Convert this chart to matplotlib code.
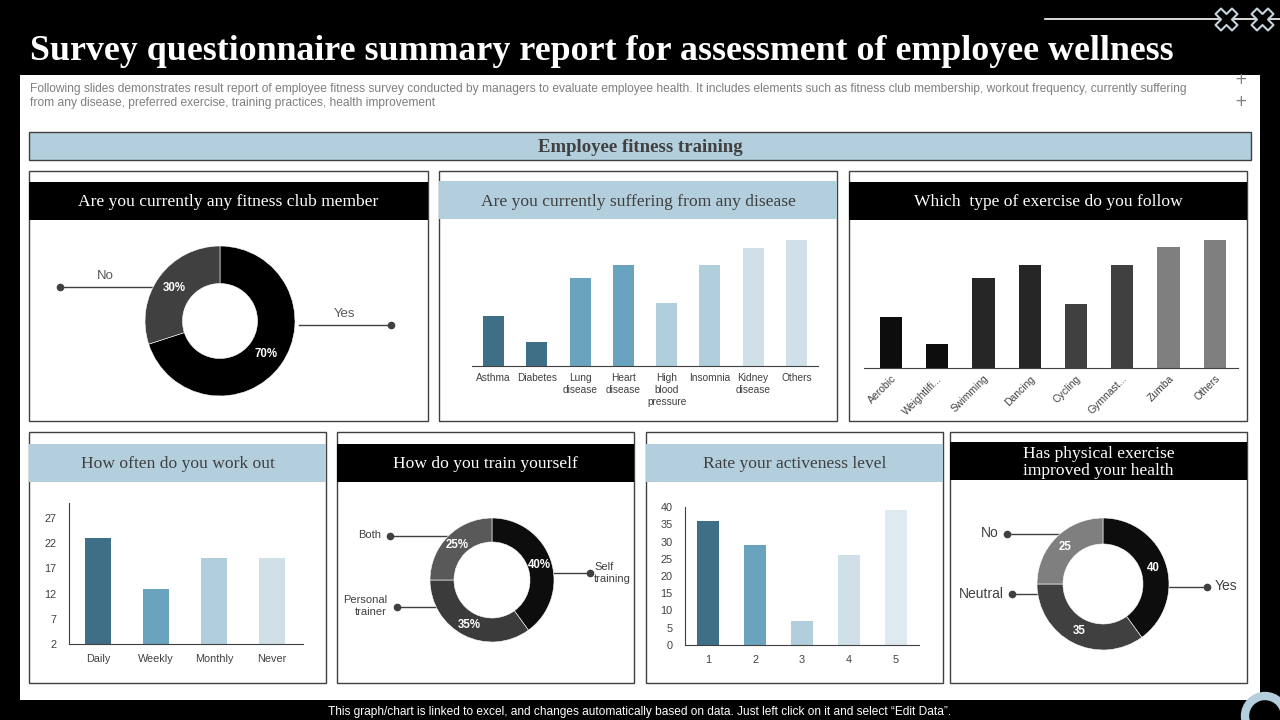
import numpy as np
import matplotlib.pyplot as plt
from matplotlib.patches import Rectangle, Circle

W, H = 1280, 720

# ---- data ----
disease_labels = ['Asthma', 'Diabetes', 'Lung\ndisease', 'Heart\ndisease',
                  'High\nblood\npressure', 'Insomnia', 'Kidney\ndisease', 'Others']
disease_values = [2.0, 0.95, 3.5, 4.0, 2.5, 4.0, 4.7, 5.0]

exercise_labels = ['Aerobic', 'Weightlifi...', 'Swimming', 'Dancing', 'Cycling',
                   'Gymnast...', 'Zumba', 'Others']
exercise_values = [2.0, 0.95, 3.5, 4.0, 2.5, 4.0, 4.7, 5.0]

club_labels = ['Yes', 'No']
club_values = [70, 30]

workout_labels = ['Daily', 'Weekly', 'Monthly', 'Never']
workout_values = [23, 13, 19, 19]
workout_ticks = [2, 7, 12, 17, 22, 27]

train_labels = ['Self\ntraining', 'Personal\ntrainer', 'Both']
train_values = [40, 35, 25]

active_levels = [1, 2, 3, 4, 5]
active_values = [36, 29, 7, 26, 39]
active_ticks = [0, 5, 10, 15, 20, 25, 30, 35, 40]

health_labels = ['Yes', 'Neutral', 'No']
health_values = [40, 35, 25]

# colours
DARK = '#404040'
LIGHTBLUE = '#b3cedc'
blues = ['#3f6e87', '#6aa3bd', '#b0cedc', '#cfe0e8', '#dee9f0']
greys = ['#0d0d0d', '#262626', '#404040', '#7f7f7f']

SERIF = 'Liberation Serif'
SANS = 'Liberation Sans'

fig = plt.figure(figsize=(12.8, 7.2), dpi=100, facecolor='black')

# full-figure pixel axes for frames, headers and annotations
bg = fig.add_axes([0, 0, 1, 1])
bg.set_xlim(0, W)
bg.set_ylim(H, 0)
bg.axis('off')
bg.set_zorder(0)


def px_axes(x0, y0, x1, y1):
    ax = fig.add_axes([x0 / W, 1 - y1 / H, (x1 - x0) / W, (y1 - y0) / H])
    ax.set_zorder(2)
    ax.patch.set_alpha(0)
    return ax


# white slide area
bg.add_patch(Rectangle((20, 75), 1240, 625, fc='white', ec='none'))

# title and description
bg.text(30, 48, 'Survey questionnaire summary report for assessment of employee wellness',
        color='white', fontsize=25.8, fontweight='bold', family=SERIF, va='center_baseline')
bg.text(30, 96, 'Following slides demonstrates result report of employee fitness survey conducted by managers to evaluate employee health. '
        'It includes elements such as fitness club membership, workout frequency, currently suffering\n'
        'from any disease, preferred exercise, training practices, health improvement',
        color='#7f7f7f', fontsize=8.65, family=SANS, va='center', linespacing=1.2)
bg.text(1241, 79, '+', color='#7f7f7f', fontsize=11, ha='center', va='center')
bg.text(1241, 101, '+', color='#7f7f7f', fontsize=11, ha='center', va='center')

# top-right decoration
bg.plot([1045, 1280], [19, 19], color='white', lw=1.2)
bg.scatter([1226, 1262], [19, 19], marker='X', s=250, fc='black', ec='#c5d3dc', lw=1.5, zorder=5)
bg.add_patch(Circle((1265, 716), 20, fc='none', ec=LIGHTBLUE, lw=6))

# footer
bg.text(640, 712, 'This graph/chart is linked to excel, and changes automatically based on data. '
        'Just left click on it and select \u201cEdit Data\u201d.',
        color='white', fontsize=8.6, family=SANS, ha='center', va='center')

# section header
bg.add_patch(Rectangle((29, 132), 1222, 28, fc=LIGHTBLUE, ec=DARK, lw=1))
bg.text(640, 147.5, 'Employee fitness training', color=DARK, fontsize=13.5,
        fontweight='bold', family=SERIF, ha='center', va='center')


def panel(x0, y0, x1, y1, hy0, hy1, title, dark):
    bg.add_patch(Rectangle((x0, y0), x1 - x0, y1 - y0, fc='white', ec=DARK, lw=1))
    bg.add_patch(Rectangle((x0, hy0), x1 - x0, hy1 - hy0,
                           fc='black' if dark else LIGHTBLUE, ec='none'))
    bg.text((x0 + x1) / 2, (hy0 + hy1) / 2 + 1.5, title, color='white' if dark else DARK,
            fontsize=12.6, family=SERIF, ha='center', va='center', linespacing=1.05)


panel(29, 171, 428, 421, 182, 220, 'Are you currently any fitness club member', True)
panel(439, 171, 837, 421, 181, 219, 'Are you currently suffering from any disease', False)
panel(849, 171, 1247, 421, 182, 220, 'Which  type of exercise do you follow', True)
panel(29, 432, 326, 683, 444, 482, 'How often do you work out', False)
panel(337, 432, 634, 683, 444, 482, 'How do you train yourself', True)
panel(646, 432, 943, 683, 444, 482, 'Rate your activeness level', False)
panel(950, 432, 1247, 683, 442, 480, 'Has physical exercise\nimproved your health', True)


def style_bar_axes(ax, show_y):
    for s in ['top', 'right']:
        ax.spines[s].set_visible(False)
    ax.spines['bottom'].set_color(DARK)
    ax.spines['left'].set_color(DARK)
    ax.spines['left'].set_visible(show_y)
    ax.tick_params(length=0, labelsize=7.8, colors='#404040', pad=5)
    if not show_y:
        ax.set_yticks([])


# disease bars
ax = px_axes(472, 230, 818, 366)
x = np.arange(len(disease_values))
ax.bar(x, disease_values, width=0.48,
       color=[blues[0], blues[0], blues[1], blues[1], blues[2], blues[2], blues[3], blues[3]])
ax.set_xlim(-0.5, 7.5)
ax.set_ylim(0, 5.4)
ax.set_xticks(x)
ax.set_xticklabels(disease_labels, linespacing=1.25)
style_bar_axes(ax, False)
ax.tick_params(axis='x', labelsize=7.3, pad=5)
for t in ax.get_xticklabels():
    t.set_fontfamily(SANS)

# exercise bars
ax = px_axes(864, 232, 1238, 368)
x = np.arange(len(exercise_values))
ax.bar(x, exercise_values, width=0.48,
       color=[greys[0], greys[0], greys[1], greys[1], greys[2], greys[2], greys[3], greys[3]])
ax.set_xlim(-0.58, 7.5)
ax.set_ylim(0, 5.3)
ax.set_xticks(x)
ax.set_xticklabels(exercise_labels, rotation=45, ha='right', rotation_mode='anchor')
style_bar_axes(ax, False)
ax.tick_params(axis='x', labelsize=7.5, pad=4)
for t in ax.get_xticklabels():
    t.set_fontfamily(SANS)

# workout frequency
ax = px_axes(69, 503, 303, 644)
x = np.arange(len(workout_values))
ax.bar(x, workout_values, width=0.45, color=blues[:4])
ax.set_xlim(-0.5, 3.53)
ax.set_ylim(2, 30)
ax.set_xticks(x)
ax.set_xticklabels(workout_labels)
ax.set_yticks(workout_ticks)
style_bar_axes(ax, True)
ax.tick_params(axis='y', pad=9)
ax.tick_params(axis='x', pad=7)
for t in ax.get_xticklabels() + ax.get_yticklabels():
    t.set_fontfamily(SANS)

# activeness level
ax = px_axes(685, 507, 919, 645)
ax.bar(active_levels, active_values, width=0.47, color=blues)
ax.set_xlim(0.5, 5.5)
ax.set_ylim(0, 40)
ax.set_xticks(active_levels)
ax.set_yticks(active_ticks)
style_bar_axes(ax, True)
ax.tick_params(axis='y', pad=9)
ax.tick_params(axis='x', pad=7)
for t in ax.get_xticklabels() + ax.get_yticklabels():
    t.set_fontfamily(SANS)


def donut(cx, cy, r, r_in, values, colors, fmt):
    half = r + 4
    a = px_axes(cx - half, cy - half, cx + half, cy + half)
    mid = (1 + r_in / r) / 2
    a.pie(values, colors=colors, startangle=90, counterclock=False, radius=1,
          wedgeprops=dict(width=1 - r_in / r, edgecolor='white', linewidth=0.4),
          autopct=fmt, pctdistance=mid,
          textprops=dict(color='white', fontsize=8.3, fontweight='bold', family=SANS))
    a.set_xlim(-half / r, half / r)
    a.set_ylim(-half / r, half / r)
    a.set_aspect('equal')
    a.axis('off')


def leader(x0, x1, y, dot_x):
    bg.plot([x0, x1], [y, y], color=DARK, lw=1, zorder=3)
    bg.plot([dot_x], [y], 'o', color=DARK, ms=4.5, zorder=3)


# fitness club donut
donut(220, 321, 75, 37.5, club_values, ['#000000', '#404040'], lambda p: f'{p:.0f}%')
leader(60, 152, 287, 60)
bg.text(105, 276, club_labels[1], color='#595959', fontsize=9.5, family=SANS, ha='center', va='center')
leader(299, 391, 325, 391)
bg.text(345, 314, club_labels[0], color='#595959', fontsize=9.5, family=SANS, ha='center', va='center')

# train yourself donut
donut(492, 580, 62, 38, train_values, ['#0d0d0d', '#3b3b3b', '#595959'], lambda p: f'{p:.0f}%')
leader(554, 590, 573, 590)
bg.text(594, 573, train_labels[0], color='#404040', fontsize=8, family=SANS, ha='left', va='center', linespacing=1.15)
leader(397, 436, 607, 397)
bg.text(387, 606, train_labels[1], color='#404040', fontsize=8, family=SANS, ha='right', va='center',
        multialignment='right', linespacing=1.15)
leader(390, 448, 536, 390)
bg.text(381, 535, train_labels[2], color='#404040', fontsize=8, family=SANS, ha='right', va='center')

# health improvement donut
donut(1103, 584, 66, 40, health_values, ['#0d0d0d', '#404040', '#7f7f7f'], lambda p: f'{p:.0f}')
leader(1169, 1207, 587, 1207)
bg.text(1215, 586, health_labels[0], color='#404040', fontsize=10, family=SANS, ha='left', va='center')
leader(1012, 1037, 594, 1012)
bg.text(1004, 594, health_labels[1], color='#404040', fontsize=10, family=SANS, ha='right', va='center')
leader(1007, 1060, 534, 1007)
bg.text(999, 533, health_labels[2], color='#404040', fontsize=10, family=SANS, ha='right', va='center')

fig.savefig('out.png', dpi=100, facecolor='black')
